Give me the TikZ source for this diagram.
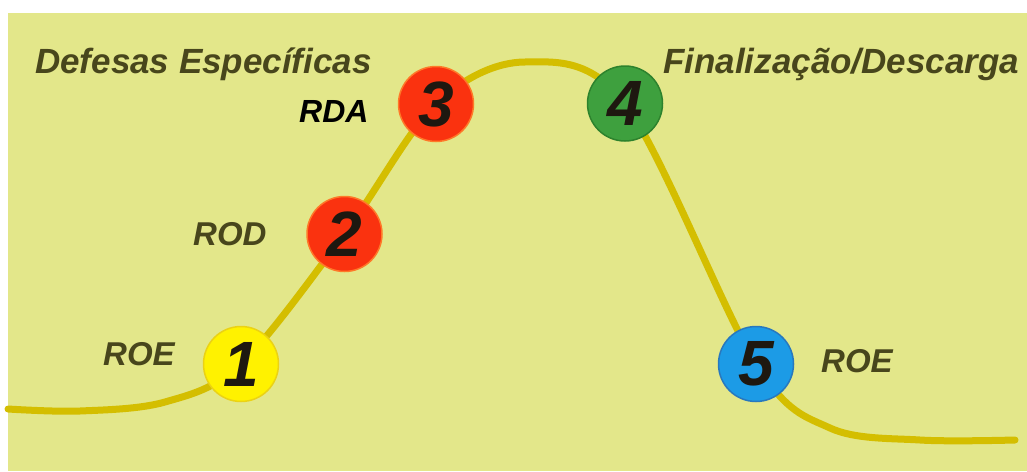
\documentclass[tikz,border=0pt]{standalone}
\usepackage{fontspec}
\setmainfont{Liberation Sans}
\definecolor{bgc}{RGB}{227,231,138}
\definecolor{curvec}{RGB}{212,190,0}
\definecolor{olive}{RGB}{72,70,28}
\definecolor{digitc}{RGB}{30,24,16}
\definecolor{yel}{RGB}{255,242,0}
\definecolor{yelb}{RGB}{235,210,20}
\definecolor{redc}{RGB}{250,50,15}
\definecolor{redb}{RGB}{255,120,40}
\definecolor{grn}{RGB}{62,160,62}
\definecolor{grnb}{RGB}{45,130,45}
\definecolor{blu}{RGB}{28,155,230}
\definecolor{blub}{RGB}{40,120,190}
\tikzset{
  stage/.style={circle, minimum size=75pt, inner sep=0pt, line width=1.5pt,
    font=\fontsize{64}{64}\selectfont\bfseries\itshape, text=digitc},
  lbl/.style={anchor=base west, inner sep=0pt, font=\fontsize{33}{33}\selectfont\bfseries\itshape, text=olive},
  head/.style={anchor=base west, inner sep=0pt, font=\fontsize{35}{35}\selectfont\bfseries\itshape, text=olive},
  curveline/.style={draw=curvec, line width=7pt, line cap=round}
}
\begin{document}
\begin{tikzpicture}[x=1pt,y=-1pt]
\useasboundingbox (0,0) rectangle (1027,471);
\fill[white] (0,0) rectangle (1027,471);
\fill[bgc] (8,13) rectangle (1027,471);
% curve points
\coordinate (s0) at (8,409);
\coordinate (s1) at (80,411);
\coordinate (s2) at (165,402);
\coordinate (p1) at (241,364);
\coordinate (p2) at (344.5,234);
\coordinate (p3) at (436,104);
\coordinate (top) at (525,62);
\coordinate (p4) at (625,103.5);
\coordinate (p5) at (756,364);
\coordinate (r1) at (830,428);
\coordinate (r2) at (920,440);
\coordinate (r3) at (1015,440);
\draw[curveline] plot[smooth, tension=0.55] coordinates {(s0) (s1) (s2) (p1) (p2) (p3) (top) (p4) (p5) (r1) (r2) (r3)};
% stages
\node[stage, fill=yel, draw=yelb] (c1) at (p1) {1};
\node[stage, fill=redc, draw=redb] (c2) at (p2) {2};
\node[stage, fill=redc, draw=redb] (c3) at (p3) {3};
\node[stage, fill=grn, draw=grnb] (c4) at (p4) {4};
\node[stage, fill=blu, draw=blub] (c5) at (p5) {5};
% labels
\node[head] (h1) at (35,73) {Defesas Específicas};
\node[head] (h2) at (663,73) {Finalização/Descarga};
\node[lbl, text=black, font=\fontsize{32}{32}\selectfont\bfseries\itshape] (l3) at (299,122) {RDA};
\node[lbl] (l2) at (193,245) {ROD};
\node[lbl] (l1) at (103,365) {ROE};
\node[lbl] (l5) at (821,372) {ROE};
\end{tikzpicture}
\end{document}
